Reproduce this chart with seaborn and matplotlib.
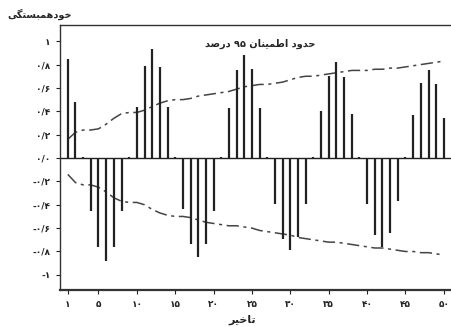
import re
import numpy as np
import pandas as pd
import matplotlib
matplotlib.use("Agg")
import matplotlib.pyplot as plt
import seaborn as sns

# --- data ---
LAGS = list(range(1, 51))
ACF = [0.85, 0.48, 0.01, -0.45, -0.76, -0.88, -0.76, -0.45, 0.01, 0.44,
       0.79, 0.93, 0.78, 0.44, 0.01, -0.44, -0.74, -0.85, -0.74, -0.45,
       0.01, 0.43, 0.75, 0.88, 0.76, 0.43, 0.01, -0.39, -0.69, -0.79,
       -0.68, -0.39, 0.01, 0.40, 0.70, 0.82, 0.69, 0.38, 0.01, -0.39,
       -0.66, -0.76, -0.64, -0.37, 0.01, 0.37, 0.64, 0.75, 0.63, 0.34]
UPPER = [0.16, 0.22, 0.24, 0.24, 0.25, 0.29, 0.34, 0.38, 0.39, 0.39,
         0.41, 0.44, 0.47, 0.49, 0.50, 0.50, 0.51, 0.53, 0.54, 0.55,
         0.56, 0.57, 0.59, 0.61, 0.62, 0.63, 0.63, 0.64, 0.65, 0.67,
         0.69, 0.70, 0.70, 0.71, 0.72, 0.73, 0.74, 0.75, 0.75, 0.75,
         0.76, 0.76, 0.77, 0.77, 0.78, 0.79, 0.80, 0.81, 0.82, 0.83]
LOWER = [-0.14, -0.21, -0.23, -0.23, -0.25, -0.29, -0.34, -0.37, -0.38, -0.38,
         -0.40, -0.44, -0.47, -0.49, -0.50, -0.50, -0.51, -0.53, -0.55, -0.56,
         -0.57, -0.58, -0.58, -0.59, -0.60, -0.62, -0.63, -0.64, -0.65, -0.66,
         -0.68, -0.69, -0.70, -0.71, -0.72, -0.72, -0.73, -0.74, -0.75, -0.76,
         -0.77, -0.77, -0.78, -0.79, -0.80, -0.80, -0.81, -0.81, -0.82, -0.83]

X_TICKS = [1, 5, 10, 15, 20, 25, 30, 35, 40, 45, 50]
X_LABELS = ["۱", "۵", "۱۰", "۱۵", "۲۰", "۲۵", "۳۰", "۳۵", "۴۰", "۴۵", "۵۰"]
Y_TICKS = [1, 0.8, 0.6, 0.4, 0.2, 0, -0.2, -0.4, -0.6, -0.8, -1]
Y_LABELS = ["۱", "۰/۸", "۰/۶", "۰/۴", "۰/۲", "۰/۰", "-۰/۲", "-۰/۴", "-۰/۶", "-۰/۸", "-۱"]

TITLE = "حدود اطمینان ۹۵ درصد"
X_NAME = "تاخیر"
Y_NAME = "خودهمبستگی"

# --- arabic shaping (matplotlib has no bidi / joining) ---
# isolated, final, initial, medial
FORMS = {
    "ا": ("\uFE8D", "\uFE8E", None, None),
    "ب": ("\uFE8F", "\uFE90", "\uFE91", "\uFE92"),
    "ت": ("\uFE95", "\uFE96", "\uFE97", "\uFE98"),
    "ح": ("\uFEA1", "\uFEA2", "\uFEA3", "\uFEA4"),
    "خ": ("\uFEA5", "\uFEA6", "\uFEA7", "\uFEA8"),
    "د": ("\uFEA9", "\uFEAA", None, None),
    "ر": ("\uFEAD", "\uFEAE", None, None),
    "س": ("\uFEB1", "\uFEB2", "\uFEB3", "\uFEB4"),
    "ص": ("\uFEB9", "\uFEBA", "\uFEBB", "\uFEBC"),
    "ط": ("\uFEC1", "\uFEC2", "\uFEC3", "\uFEC4"),
    "م": ("\uFEE1", "\uFEE2", "\uFEE3", "\uFEE4"),
    "ن": ("\uFEE5", "\uFEE6", "\uFEE7", "\uFEE8"),
    "ه": ("\uFEE9", "\uFEEA", "\uFEEB", "\uFEEC"),
    "و": ("\uFEED", "\uFEEE", None, None),
    "ی": ("\uFBFC", "\uFBFD", "\uFBFE", "\uFBFF"),
    "گ": ("\uFB92", "\uFB93", "\uFB94", "\uFB95"),
}


def shape(text):
    out = []
    for i, c in enumerate(text):
        if c not in FORMS:
            out.append(c)
            continue
        prev = text[i - 1] if i > 0 else ""
        nxt = text[i + 1] if i + 1 < len(text) else ""
        join_prev = prev in FORMS and FORMS[prev][2] is not None
        join_next = nxt in FORMS and FORMS[c][2] is not None
        iso, fin, ini, med = FORMS[c]
        if join_prev and join_next:
            out.append(med)
        elif join_prev:
            out.append(fin)
        elif join_next:
            out.append(ini)
        else:
            out.append(iso)
    vis = "".join(out)[::-1]
    # digits stay left-to-right
    return re.sub(r"[۰-۹/]+", lambda m: m.group()[::-1], vis)


sns.set_style("ticks")
plt.rcParams["font.family"] = ["DejaVu Sans"]
plt.rcParams["font.weight"] = "bold"

fig = plt.figure(figsize=(4.52, 3.27), dpi=100)
ax = fig.add_axes([0.133, 0.113, 0.866, 0.811])

df = pd.DataFrame({"lag": LAGS, "upper": UPPER, "lower": LOWER})
for col in ["upper", "lower"]:
    sns.lineplot(data=df, x="lag", y=col, ax=ax, color="#444444",
                 linewidth=1.1, dashes=False)
for line in ax.lines:
    line.set_linestyle((0, (8, 3, 2, 3)))

ax.vlines(LAGS, 0, ACF, color="#222222", linewidth=1.6)
ax.axhline(0, color="#222222", linewidth=1.0)

ax.set_xlim(0, 51)
ax.set_ylim(-1.13, 1.14)
ax.set_xticks(X_TICKS)
ax.set_xticklabels(X_LABELS, fontsize=6.5, fontweight="bold")
ax.set_yticks(Y_TICKS)
ax.set_yticklabels(Y_LABELS, fontsize=6.5, fontweight="bold")
ax.tick_params(length=3, width=0.8, colors="#222222", pad=4)
for s in ax.spines.values():
    s.set_color("#333333")
    s.set_linewidth(1.0)
ax.spines["bottom"].set_linewidth(1.6)
ax.spines["right"].set_visible(False)

ax.set_xlabel("")
ax.set_ylabel("")
ax.text(0.51, 0.93, shape(TITLE), transform=ax.transAxes, ha="center",
        va="center", fontsize=7, fontweight="bold")
fig.text(0.088, 0.955, shape(Y_NAME), ha="center", va="center",
         fontsize=7, fontweight="bold")
fig.text(0.535, 0.022, shape(X_NAME), ha="center", va="center",
         fontsize=8, fontweight="bold")

fig.savefig("out.png", dpi=100)
